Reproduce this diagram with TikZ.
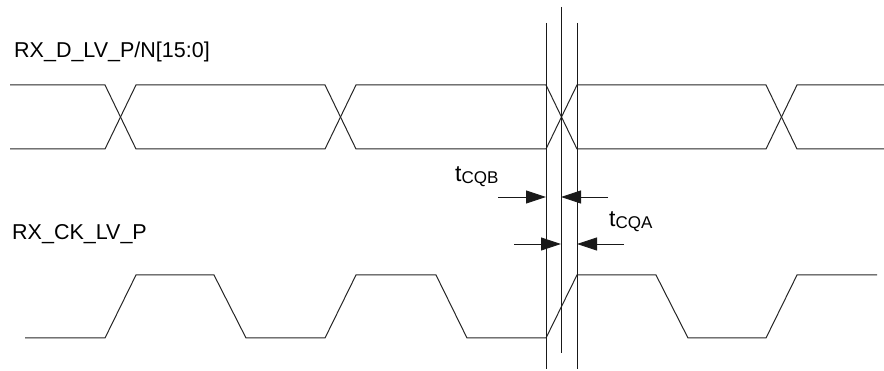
\documentclass[tikz,border=0pt]{standalone}
\usepackage{fontspec}
\setmainfont{Liberation Sans}
\usepackage{tikz}
\usetikzlibrary{arrows.meta}

\tikzset{
  wave/.style={black!85,line width=1pt,line join=miter},
  guide/.style={black!90,line width=0.9pt},
  dimarrow/.style={black!90,line width=0.9pt,-{Triangle[length=20pt,width=13pt]}},
  siglabel/.style={anchor=base west,inner sep=0pt,font=\fontsize{21.5}{22}\selectfont},
  tlabel/.style={anchor=base west,inner sep=0pt,font=\fontsize{23}{24}\selectfont}
}
\newcommand{\tsub}[1]{t\raisebox{-2pt}{\fontsize{17}{17}\selectfont #1}}

\begin{document}
\begin{tikzpicture}[x=1pt,y=-1pt]
\useasboundingbox (0,0) rectangle (884,371);
% signal names
\node[siglabel] (dname) at (14,58) {RX\_D\_LV\_P/N[15:0]};
\node[siglabel] (cname) at (12,240) {RX\_CK\_LV\_P};
% data bus
\draw[wave] (10,85)--(105,85)--(136,149)--(325,149)--(356,85)--(546,85)--(577,149)--(766,149)--(797,85)--(884,85);
\draw[wave] (10,149)--(105,149)--(136,85)--(325,85)--(356,149)--(546,149)--(577,85)--(766,85)--(797,149)--(884,149);
% clock
\draw[wave] (25,338)--(105,338)--(136,275)--(214,275)--(246,338)--(325,338)--(356,275)--(436,275)--(467,338)--(546,338)--(577,275)--(656,275)--(688,338)--(766,338)--(797,275)--(877,275);
% guide lines
\coordinate (ltop) at (546,23);
\coordinate (lbot) at (546,369);
\coordinate (mtop) at (561,7);
\coordinate (mbot) at (561,353);
\coordinate (rtop) at (577,23);
\coordinate (rbot) at (577,369);
\draw[guide] (ltop) -- (lbot);
\draw[guide] (mtop) -- (mbot);
\draw[guide] (rtop) -- (rbot);
% tCQB
\coordinate (b1) at (498,197);
\coordinate (b2) at (546,197);
\coordinate (b3) at (608,197);
\coordinate (b4) at (561,197);
\draw[dimarrow] (b1) -- (b2);
\draw[dimarrow] (b3) -- (b4);
\node[tlabel] (tcqb) at (455,182) {\tsub{CQB}};
% tCQA
\coordinate (a1) at (514,244);
\coordinate (a2) at (561,244);
\coordinate (a3) at (624,244);
\coordinate (a4) at (577,244);
\draw[dimarrow] (a1) -- (a2);
\draw[dimarrow] (a3) -- (a4);
\node[tlabel] (tcqa) at (609,227) {\tsub{CQA}};
\end{tikzpicture}
\end{document}
